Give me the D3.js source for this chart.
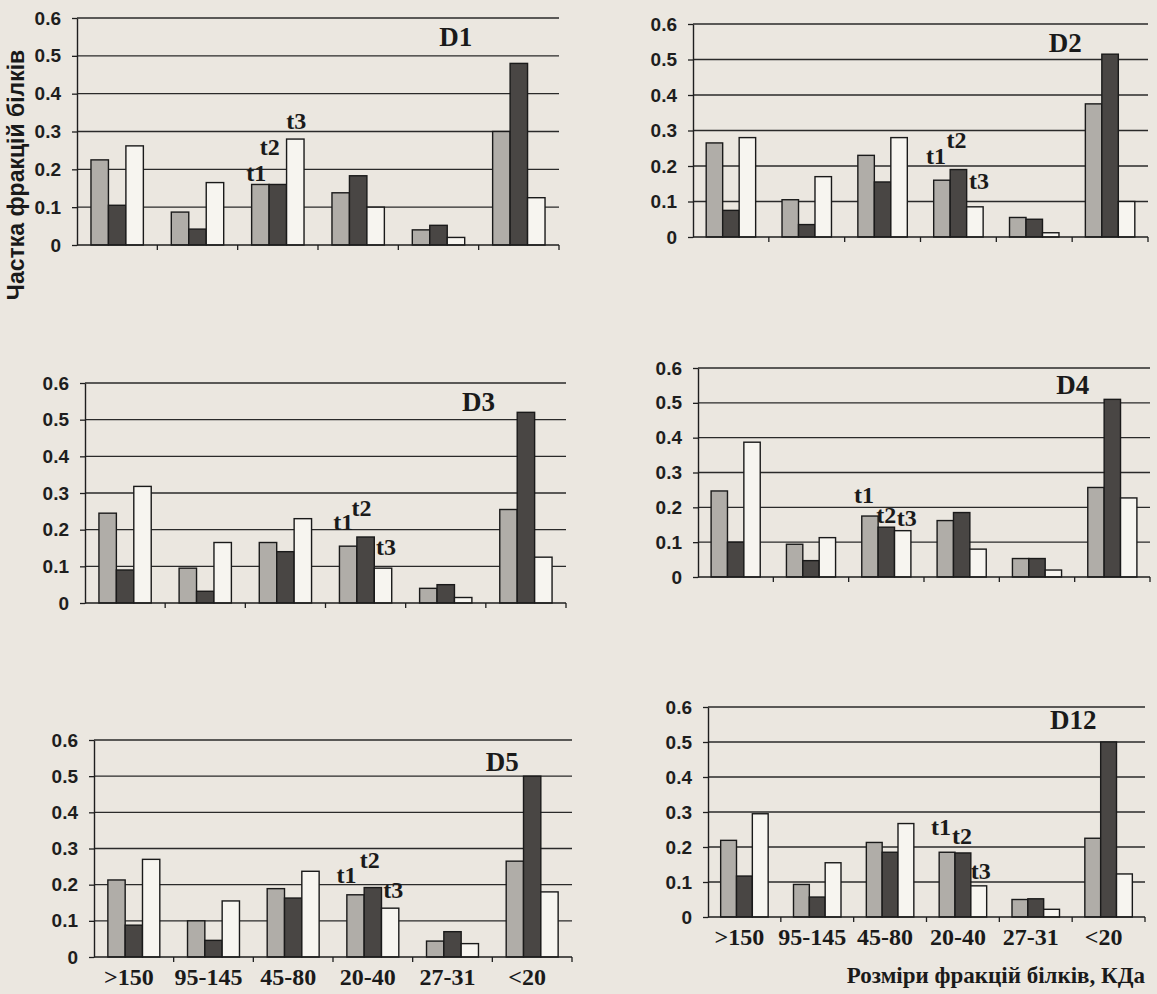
<!DOCTYPE html>
<html>
<head>
<meta charset="utf-8">
<script src="https://cdn.jsdelivr.net/npm/d3@7"></script>
<style>
  body { margin: 0; background: #ebe7e0; }
  svg { display: block; }
</style>
</head>
<body>
<div id="chart"></div>
<script>
// categories and series
var categories = [">150", "95-145", "45-80", "20-40", "27-31", "<20"];
var series = ["t1", "t2", "t3"];
var yTicks = [0, 0.1, 0.2, 0.3, 0.4, 0.5, 0.6];
var panelNames = ["D1", "D2", "D3", "D4", "D5", "D12"];

// values per panel, per time point
var d1T1 = [0.225, 0.087, 0.16, 0.138, 0.04, 0.30];
var d1T2 = [0.105, 0.042, 0.16, 0.183, 0.052, 0.48];
var d1T3 = [0.262, 0.165, 0.28, 0.10, 0.02, 0.125];

var d2T1 = [0.265, 0.105, 0.23, 0.16, 0.055, 0.375];
var d2T2 = [0.075, 0.035, 0.155, 0.19, 0.05, 0.515];
var d2T3 = [0.28, 0.17, 0.28, 0.085, 0.012, 0.10];

var d3T1 = [0.245, 0.095, 0.165, 0.155, 0.04, 0.255];
var d3T2 = [0.09, 0.032, 0.14, 0.18, 0.05, 0.52];
var d3T3 = [0.318, 0.165, 0.23, 0.095, 0.015, 0.125];

var d4T1 = [0.247, 0.094, 0.175, 0.162, 0.053, 0.257];
var d4T2 = [0.10, 0.047, 0.143, 0.185, 0.053, 0.51];
var d4T3 = [0.387, 0.113, 0.133, 0.08, 0.02, 0.227];

var d5T1 = [0.213, 0.10, 0.189, 0.172, 0.044, 0.265];
var d5T2 = [0.088, 0.046, 0.163, 0.192, 0.07, 0.50];
var d5T3 = [0.27, 0.155, 0.237, 0.135, 0.037, 0.18];

var d12T1 = [0.219, 0.093, 0.213, 0.185, 0.05, 0.225];
var d12T2 = [0.117, 0.057, 0.185, 0.183, 0.052, 0.50];
var d12T3 = [0.295, 0.155, 0.267, 0.089, 0.022, 0.123];

var panelData = [
    [d1T1, d1T2, d1T3],
    [d2T1, d2T2, d2T3],
    [d3T1, d3T2, d3T3],
    [d4T1, d4T2, d4T3],
    [d5T1, d5T2, d5T3],
    [d12T1, d12T2, d12T3]
];

// where the t1/t2/t3 labels sit: category index, value level, pixel nudge
var labelCat = [2, 3, 3, 2, 3, 3];
var labelVal = [
    [0.169, 0.239, 0.307],
    [0.205, 0.251, 0.135],
    [0.20, 0.238, 0.13],
    [0.213, 0.155, 0.145],
    [0.204, 0.245, 0.162],
    [0.233, 0.21, 0.11]
];
var labelDx = [
    [-4, -8, 1],
    [-6, -2, 4],
    [-5, -4, 3],
    [-6, 0, 4],
    [-9, -3, 3],
    [-6, -1, 2]
];

// panel title position (fraction of width, value level)
var titleFrac = [0.786, 0.818, 0.818, 0.829, 0.854, 0.836];
var titleVal = [0.525, 0.52, 0.525, 0.524, 0.514, 0.538];

var width = 1157;
var height = 994;

var panelBoxes = [
    {left: 77, right: 559, top: 18, bottom: 245},
    {left: 693, right: 1148, top: 24, bottom: 237},
    {left: 85, right: 566, top: 383, bottom: 603},
    {left: 698, right: 1150, top: 368, bottom: 577},
    {left: 94, right: 572, top: 740, bottom: 957},
    {left: 708, right: 1145, top: 707, bottom: 917}
];

var barColors = ["#b0ada8", "#494644", "#f7f5f0"];
var inkColor = "#1e1e1e";
var sansFont = "'Liberation Sans', Arial, sans-serif";
var serifFont = "'Liberation Serif', 'Times New Roman', serif";

var svg = d3.select('#chart')
            .append('svg')
                .attr("width", width)
                .attr("height", height);

svg.append("rect")
    .attr("width", width)
    .attr("height", height)
    .attr("fill", "#ebe7e0");

function drawPanel(p){
    var box = panelBoxes[p];
    var values = panelData[p];

    var xScale = d3.scaleBand()
                    .domain(categories)
                    .range([box.left, box.right]);

    var xSeries = d3.scaleBand()
                    .domain(series)
                    .range([0, xScale.bandwidth()])
                    .paddingInner(0)
                    .paddingOuter(0.8);

    var yScale = d3.scaleLinear()
                    .domain([0, 0.6])
                    .range([box.bottom, box.top]);

    var g = svg.append("g");

    // gridlines
    g.selectAll(".grid")
        .data(yTicks.filter(function(v){ return v > 0; }))
        .enter()
        .append("line")
        .attr("x1", box.left)
        .attr("x2", box.right)
        .attr("y1", function(d){ return yScale(d); })
        .attr("y2", function(d){ return yScale(d); })
        .attr("stroke", "#2a2a2a")
        .attr("stroke-width", 1.4);

    // bars
    series.forEach(function(s, si){
        g.selectAll(".bar" + si)
            .data(values[si])
            .enter()
            .append("rect")
            .attr("x", function(d, i){ return xScale(categories[i]) + xSeries(s); })
            .attr("y", function(d){ return yScale(d); })
            .attr("width", xSeries.bandwidth())
            .attr("height", function(d){ return yScale(0) - yScale(d); })
            .attr("fill", barColors[si])
            .attr("stroke", "#1a1a1a")
            .attr("stroke-width", 1.4);
    });

    // y axis
    var yAxis = g.append("g")
        .attr("transform", "translate(" + box.left + ",0)")
        .call(d3.axisLeft(yScale)
                .tickValues(yTicks)
                .tickFormat(function(d){ return d === 0 ? "0" : d3.format(".1f")(d); })
                .tickSize(5)
                .tickSizeOuter(0)
                .tickPadding(11));
    yAxis.select(".domain").attr("stroke", inkColor).attr("stroke-width", 1.4);
    yAxis.selectAll(".tick line").attr("stroke", inkColor).attr("stroke-width", 1.3);
    yAxis.selectAll("text")
        .attr("fill", inkColor)
        .style("font-family", sansFont)
        .style("font-weight", "bold")
        .style("font-size", "19px");

    // x axis line with ticks at category borders
    g.append("line")
        .attr("x1", box.left)
        .attr("x2", box.right)
        .attr("y1", yScale(0))
        .attr("y2", yScale(0))
        .attr("stroke", inkColor)
        .attr("stroke-width", 1.4);

    var borders = categories.map(function(c){ return xScale(c); }).concat([box.right]);
    g.selectAll(".xtick")
        .data(borders.slice(1))
        .enter()
        .append("line")
        .attr("x1", function(d){ return d; })
        .attr("x2", function(d){ return d; })
        .attr("y1", yScale(0))
        .attr("y2", yScale(0) + 5)
        .attr("stroke", inkColor)
        .attr("stroke-width", 1.3);

    // category labels only on the bottom row
    if (p >= 4){
        g.selectAll(".xlab")
            .data(categories)
            .enter()
            .append("text")
            .attr("x", function(d){ return xScale(d) + xScale.bandwidth() / 2 - 5; })
            .attr("y", yScale(0) + 28)
            .attr("text-anchor", "middle")
            .attr("fill", "#1a1a1a")
            .style("font-family", serifFont)
            .style("font-weight", "bold")
            .style("font-size", "24px")
            .text(function(d){ return d; });
    }

    // panel title
    g.append("text")
        .attr("x", box.left + (box.right - box.left) * titleFrac[p])
        .attr("y", yScale(titleVal[p]))
        .attr("text-anchor", "middle")
        .attr("fill", "#1a1a1a")
        .style("font-family", serifFont)
        .style("font-weight", "bold")
        .style("font-size", "27px")
        .text(panelNames[p]);

    // t1 t2 t3 labels
    var cat = categories[labelCat[p]];
    g.selectAll(".tlab")
        .data(series)
        .enter()
        .append("text")
        .attr("x", function(s, si){
            return xScale(cat) + xSeries(s) + xSeries.bandwidth() / 2 + labelDx[p][si];
        })
        .attr("y", function(s, si){ return yScale(labelVal[p][si]); })
        .attr("text-anchor", "middle")
        .attr("fill", "#1a1a1a")
        .style("font-family", serifFont)
        .style("font-weight", "bold")
        .style("font-size", "24px")
        .text(function(s){ return s; });
}

for (var p = 0; p < panelNames.length; p++)
    drawPanel(p);

// axis titles
svg.append("text")
    .attr("transform", "translate(24,175) rotate(-90)")
    .attr("text-anchor", "middle")
    .attr("fill", "#1a1a1a")
    .style("font-family", sansFont)
    .style("font-weight", "bold")
    .style("font-size", "23px")
    .text("Частка фракцій білків");

svg.append("text")
    .attr("x", 1145)
    .attr("y", 983)
    .attr("text-anchor", "end")
    .attr("fill", "#1a1a1a")
    .style("font-family", serifFont)
    .style("font-weight", "bold")
    .style("font-size", "23px")
    .text("Розміри фракцій білків, КДа");
</script>
</body>
</html>
